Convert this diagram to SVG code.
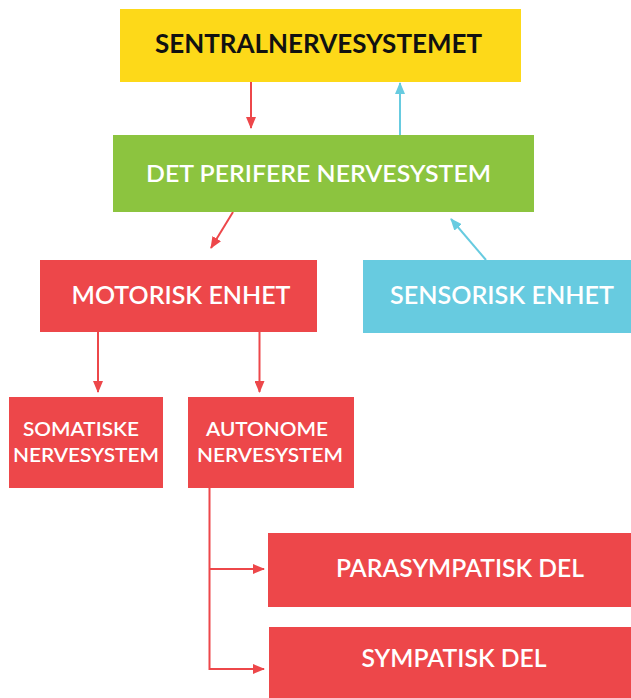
<svg xmlns="http://www.w3.org/2000/svg" width="631" height="698" viewBox="0 0 631 698">
<defs>
<style>
.t{font-family:Lato,"Open Sans","Liberation Sans",sans-serif;font-weight:600;fill:#ffffff;text-anchor:middle}
.k{fill:#111111;font-weight:700}
.red{fill:#ed474a}
.ln{fill:none;stroke-width:2}
.r{stroke:#ed474a}
.b{stroke:#67cbe0}
</style>
<marker id="ar" viewBox="0 0 12 10" refX="11" refY="5" markerWidth="6" markerHeight="5" orient="auto" markerUnits="strokeWidth">
<path d="M0,0 L12,5 L0,10 z" fill="#ed474a"/>
</marker>
<marker id="ab" viewBox="0 0 12 10" refX="11" refY="5" markerWidth="6" markerHeight="5" orient="auto" markerUnits="strokeWidth">
<path d="M0,0 L12,5 L0,10 z" fill="#67cbe0"/>
</marker>
</defs>
<rect width="631" height="698" fill="#ffffff"/>
<g id="connectors">
<line class="ln r" x1="251" y1="82" x2="251" y2="128" marker-end="url(#ar)"/>
<line class="ln b" x1="400" y1="135" x2="400" y2="83" marker-end="url(#ab)"/>
<line class="ln r" x1="233" y1="212" x2="211" y2="248" marker-end="url(#ar)"/>
<line class="ln b" x1="486" y1="260" x2="451" y2="219" marker-end="url(#ab)"/>
<line class="ln r" x1="98" y1="332" x2="98" y2="392" marker-end="url(#ar)"/>
<line class="ln r" x1="259.5" y1="332" x2="259.5" y2="392" marker-end="url(#ar)"/>
<polyline class="ln r" points="209.5,488 209.5,669 264,669" marker-end="url(#ar)"/>
<line class="ln r" x1="209.5" y1="569" x2="264" y2="569" marker-end="url(#ar)"/>
</g>
<g id="sentral">
<rect x="120" y="9" width="401" height="73" fill="#fdd919"/>
<text class="t k" x="318.5" y="53" font-size="26" textLength="327" lengthAdjust="spacingAndGlyphs">SENTRALNERVESYSTEMET</text>
</g>
<g id="perifere">
<rect x="113" y="135" width="421" height="77" fill="#8cc43f"/>
<text class="t" x="318.5" y="182" font-size="23.5" textLength="345" lengthAdjust="spacingAndGlyphs">DET PERIFERE NERVESYSTEM</text>
</g>
<g id="motorisk">
<rect class="red" x="40" y="260" width="277" height="72"/>
<text class="t" x="181" y="304" font-size="24" textLength="219" lengthAdjust="spacingAndGlyphs">MOTORISK ENHET</text>
</g>
<g id="sensorisk">
<rect x="363" y="260" width="268" height="73" fill="#67cbe0"/>
<text class="t" x="502" y="304" font-size="24" textLength="224" lengthAdjust="spacingAndGlyphs">SENSORISK ENHET</text>
</g>
<g id="somatiske">
<rect class="red" x="9" y="397" width="154" height="91"/>
<text class="t" x="81" y="436" font-size="19.5" textLength="116" lengthAdjust="spacingAndGlyphs">SOMATISKE</text>
<text class="t" x="86" y="462" font-size="19.5" textLength="146" lengthAdjust="spacingAndGlyphs">NERVESYSTEM</text>
</g>
<g id="autonome">
<rect class="red" x="188" y="397" width="166" height="91"/>
<text class="t" x="267" y="436" font-size="19.5" textLength="122" lengthAdjust="spacingAndGlyphs">AUTONOME</text>
<text class="t" x="270" y="462" font-size="19.5" textLength="146" lengthAdjust="spacingAndGlyphs">NERVESYSTEM</text>
</g>
<g id="parasympatisk">
<rect class="red" x="268" y="533" width="363" height="74"/>
<text class="t" x="460" y="577" font-size="24" textLength="248" lengthAdjust="spacingAndGlyphs">PARASYMPATISK DEL</text>
</g>
<g id="sympatisk">
<rect class="red" x="269" y="627" width="362" height="71"/>
<text class="t" x="454" y="667" font-size="24" textLength="185" lengthAdjust="spacingAndGlyphs">SYMPATISK DEL</text>
</g>
</svg>
